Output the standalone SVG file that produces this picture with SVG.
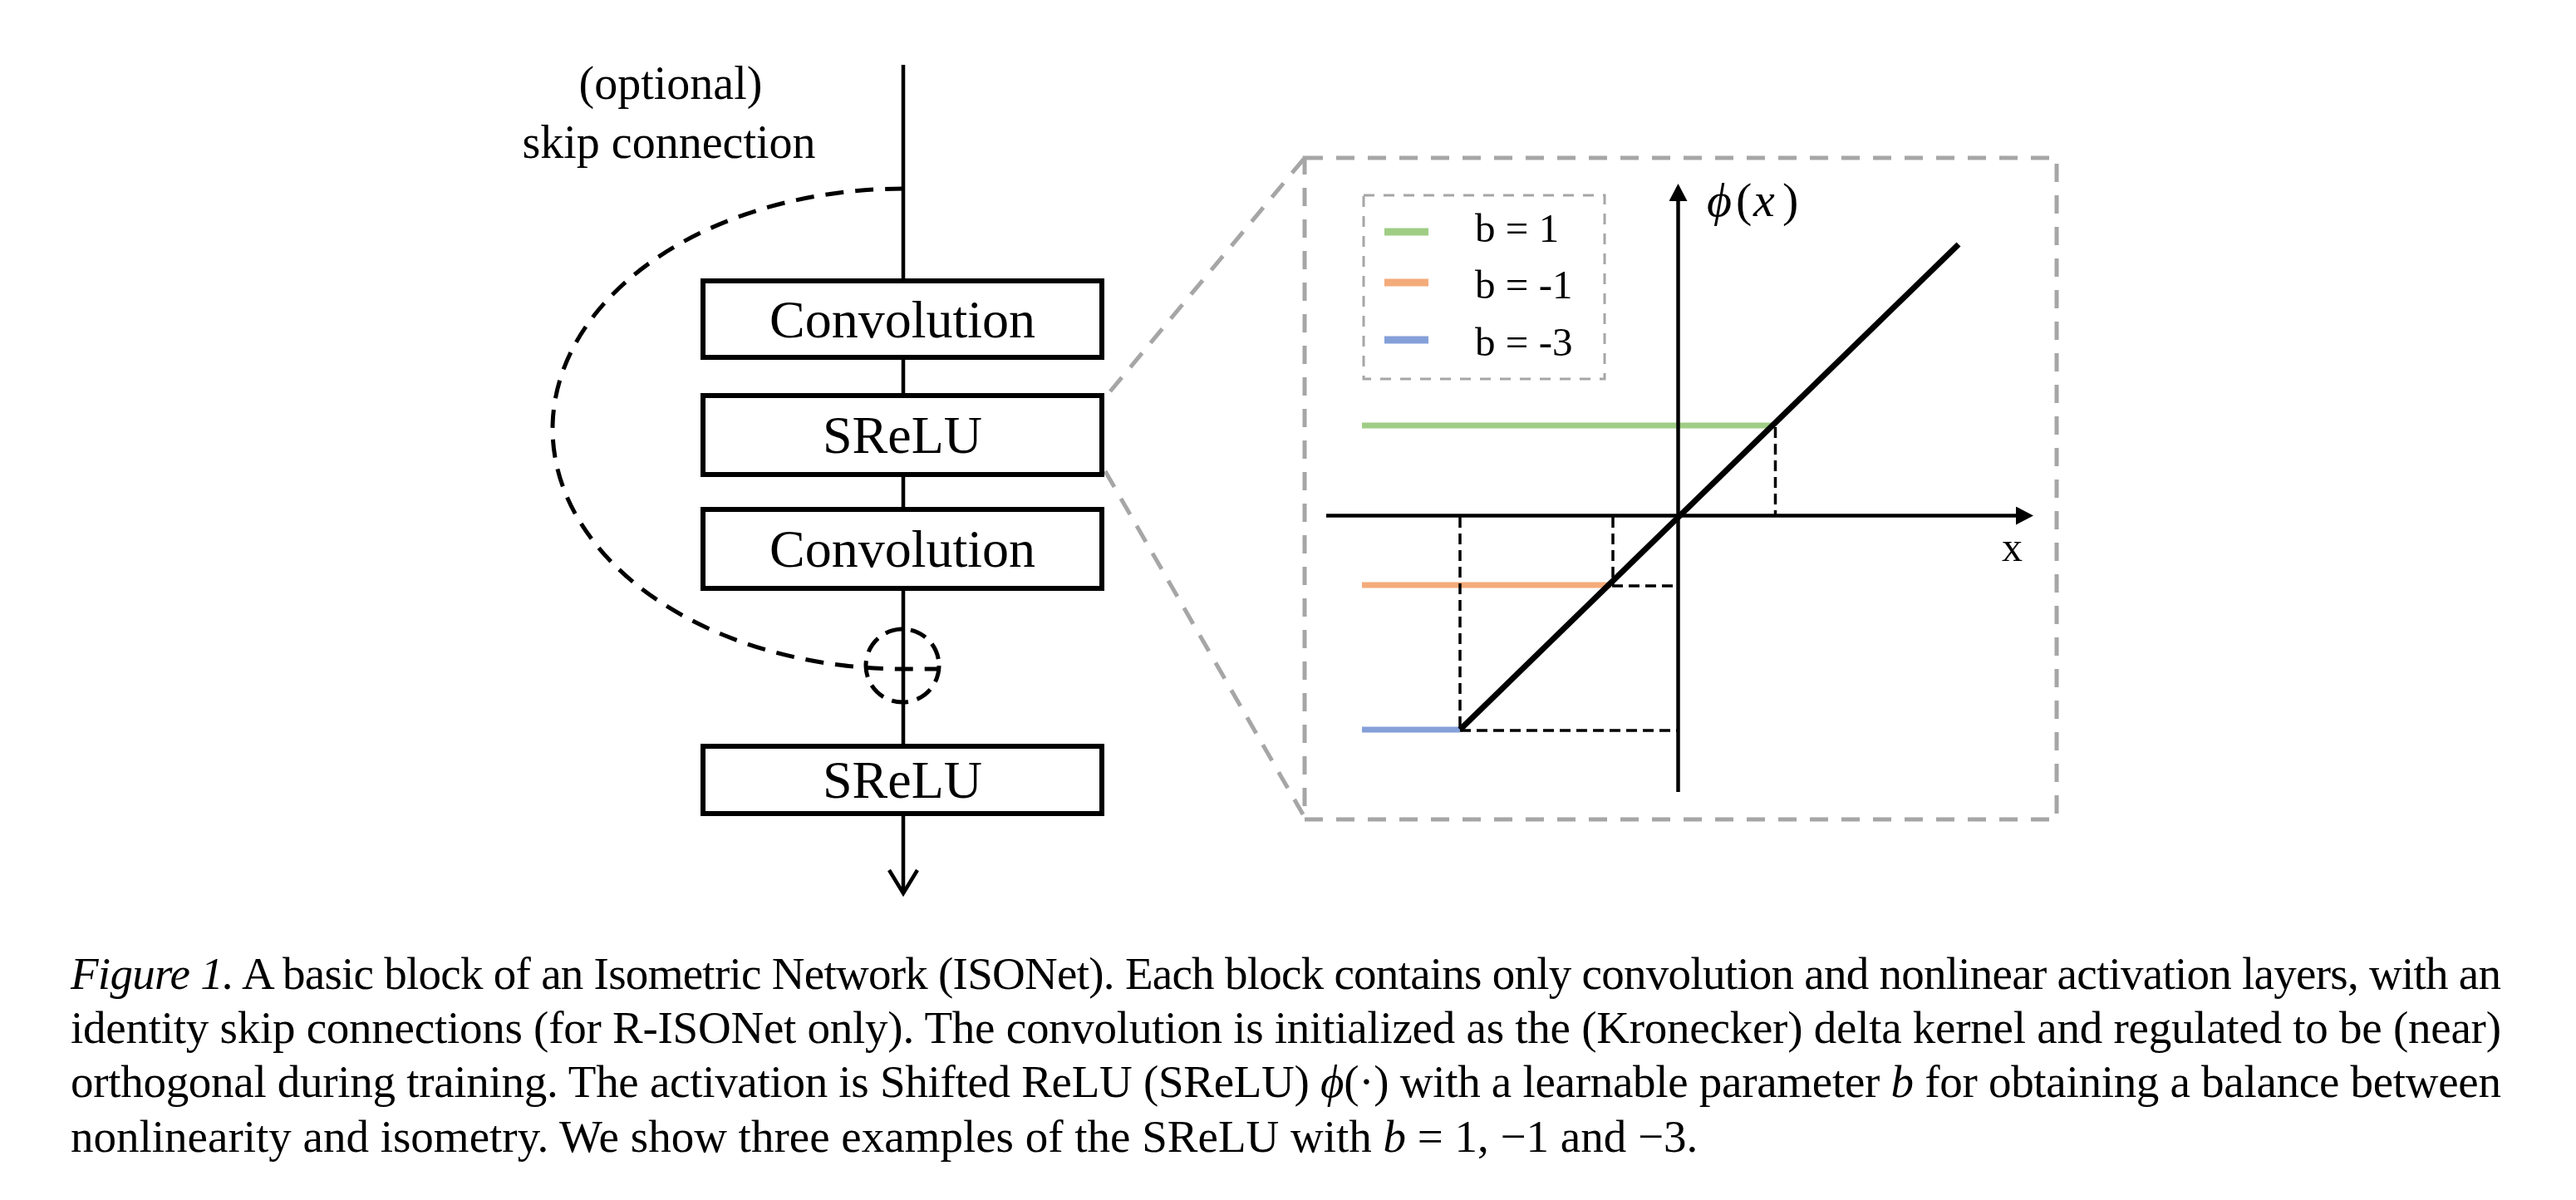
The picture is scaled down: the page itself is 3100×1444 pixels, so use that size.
<svg xmlns="http://www.w3.org/2000/svg" width="3100" height="1444" viewBox="0 0 3100 1444">
<style>
.serif{font-family:"Liberation Serif","Times New Roman",serif;fill:#000}
.lbl{font-size:64px;text-anchor:middle}
.box{fill:#fff;stroke:#000;stroke-width:6}
.main{fill:none;stroke:#000;stroke-width:4.5}
.skip{fill:none;stroke:#000;stroke-width:5;stroke-dasharray:22 14}
.grey{fill:none;stroke:#a6a6a6;stroke-width:5;stroke-dasharray:22 16}
.legbox{fill:none;stroke:#a6a6a6;stroke-width:3;stroke-dasharray:13 11}
.axis{fill:none;stroke:#000;stroke-width:4.5}
.guide{fill:none;stroke:#000;stroke-width:3.5;stroke-dasharray:13 7}
.cap{font-size:55px}
.it{font-style:italic}
</style>
<defs>
<marker id="tri" viewBox="0 0 21 22" refX="1" refY="11" markerWidth="21" markerHeight="22" markerUnits="userSpaceOnUse" orient="auto">
<path d="M0,0 L21,11 L0,22 z" fill="#000"/>
</marker>
</defs>
<rect width="3100" height="1444" fill="#fff"/>

<g id="connectors">
<line class="main" x1="1087" y1="78" x2="1087" y2="1073"/>
<polyline class="main" points="1070,1047 1087,1075 1104,1047"/>
<path class="skip" d="M1087,227 A422,289 0 0 0 1087,805 L1131,805"/>
<circle class="skip" cx="1086" cy="801" r="44" style="stroke-dasharray:20 11"/>
<line class="grey" x1="1336" y1="471" x2="1570" y2="190"/>
<line class="grey" x1="1330" y1="567" x2="1568" y2="980"/>
</g>

<g id="label-skip" class="serif" font-size="56" text-anchor="middle">
<text x="807" y="119">(optional)</text>
<text x="805" y="190">skip connection</text>
</g>

<g id="conv1"><rect class="box" x="846" y="338" width="480" height="92"/><text class="serif lbl" x="1086" y="406">Convolution</text></g>
<g id="srelu1"><rect class="box" x="846" y="476" width="480" height="95"/><text class="serif lbl" x="1086" y="545">SReLU</text></g>
<g id="conv2"><rect class="box" x="846" y="613" width="480" height="95"/><text class="serif lbl" x="1086" y="682">Convolution</text></g>
<g id="srelu2"><rect class="box" x="846" y="898" width="480" height="81"/><text class="serif lbl" x="1086" y="960">SReLU</text></g>

<g id="zoom-panel">
<rect class="grey" x="1570" y="190" width="905" height="796"/>
<g id="legend">
<rect class="legbox" x="1641" y="235" width="290" height="221"/>
<line x1="1666" y1="279" x2="1719" y2="279" stroke="#a0cd85" stroke-width="9"/>
<line x1="1666" y1="340" x2="1719" y2="340" stroke="#f4ab7a" stroke-width="9"/>
<line x1="1666" y1="409" x2="1719" y2="409" stroke="#85a0d9" stroke-width="9"/>
<g class="serif" font-size="49">
<text x="1775" y="291">b = 1</text>
<text x="1775" y="359">b = -1</text>
<text x="1775" y="428">b = -3</text>
</g>
</g>
<g id="plot">
<line x1="1639" y1="512" x2="2135" y2="512" stroke="#a0cd85" stroke-width="7"/>
<line x1="1639" y1="704" x2="1939" y2="704" stroke="#f4ab7a" stroke-width="7"/>
<line x1="1639" y1="878" x2="1757" y2="878" stroke="#85a0d9" stroke-width="7"/>
<line class="guide" x1="2136.5" y1="514" x2="2136.5" y2="620"/>
<line class="guide" x1="1941" y1="622" x2="1941" y2="704"/>
<line class="guide" x1="1757" y1="622" x2="1757" y2="878"/>
<line class="guide" x1="1940" y1="705" x2="2021" y2="705"/>
<line class="guide" x1="1757" y1="879" x2="2021" y2="879"/>
<line class="axis" x1="1596" y1="620.5" x2="2427" y2="620.5" marker-end="url(#tri)"/>
<line class="axis" x1="2019.5" y1="953" x2="2019.5" y2="241" marker-end="url(#tri)"/>
<line x1="1757" y1="878" x2="2357" y2="294" stroke="#000" stroke-width="7"/>
<text class="serif" font-size="58" y="260"><tspan class="it" x="2054">ϕ</tspan><tspan x="2089">(</tspan><tspan class="it" x="2110">x</tspan><tspan x="2145">)</tspan></text>
<text class="serif" font-size="50" x="2409" y="675">x</text>
</g>
</g>

<g id="caption" class="serif cap">
<text x="85" y="1190" textLength="2925" lengthAdjust="spacing"><tspan class="it">Figure 1.</tspan> A basic block of an Isometric Network (ISONet). Each block contains only convolution and nonlinear activation layers, with an</text>
<text x="85" y="1255" textLength="2925" lengthAdjust="spacing">identity skip connections (for R-ISONet only). The convolution is initialized as the (Kronecker) delta kernel and regulated to be (near)</text>
<text x="85" y="1320" textLength="2925" lengthAdjust="spacing">orthogonal during training. The activation is Shifted ReLU (SReLU) <tspan class="it">ϕ</tspan>(·) with a learnable parameter <tspan class="it">b</tspan> for obtaining a balance between</text>
<text x="85" y="1386">nonlinearity and isometry. We show three examples of the SReLU with <tspan class="it">b</tspan> = 1, −1 and −3.</text>
</g>
</svg>
